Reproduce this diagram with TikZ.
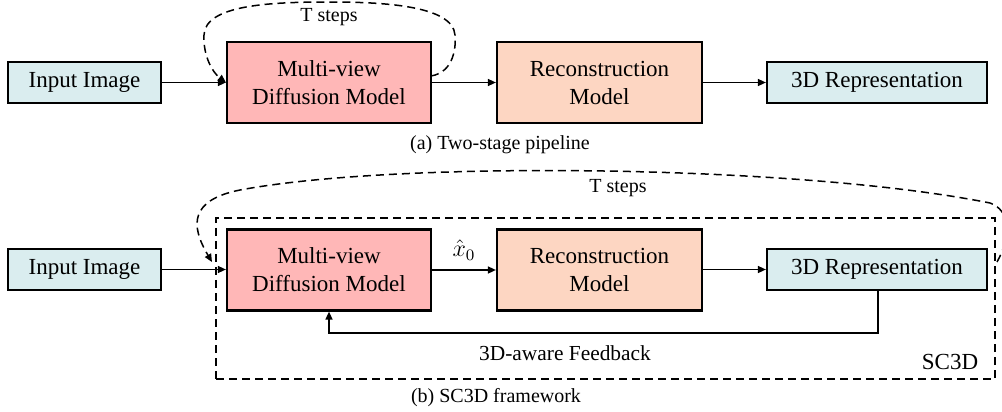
\documentclass[tikz,border=0pt]{standalone}
\usepackage{fontspec}
\setmainfont{Liberation Serif}
\usetikzlibrary{arrows.meta}
\definecolor{cyanbox}{RGB}{218,237,239}
\definecolor{pinkbox}{RGB}{255,183,183}
\definecolor{peachbox}{RGB}{253,214,194}
\tikzset{
  box/.style={draw=black, line width=1.1pt, align=center, inner sep=0pt,
    font=\fontsize{11.5}{14}\selectfont},
  smallbox/.style={box, fill=cyanbox, minimum height=20.5pt},
  bigbox/.style={box, minimum width=102pt, minimum height=40.5pt},
  conn/.style={line width=0.75pt, -{Triangle[length=4pt,width=3.5pt]}},
  loop/.style={line width=0.75pt, dash pattern=on 4pt off 2.5pt, -{Triangle[length=4pt,width=3.5pt]}},
  lbl/.style={font=\fontsize{10}{12}\selectfont, inner sep=0pt},
}
\begin{document}
\begin{tikzpicture}[x=0.5pt,y=-0.5pt]
\useasboundingbox (0,0) rectangle (1002,412);
\clip (0,0) rectangle (1002,412);
% (a)
\node[smallbox, minimum width=76.5pt] (in1) at (84.5,82.5) {Input Image};
\node[bigbox, fill=pinkbox] (mvd1) at (329,82.5) {Multi-view\\Diffusion Model};
\node[bigbox, fill=peachbox, minimum width=102.5pt] (rec1) at (599.5,82.5) {Reconstruction\\Model};
\node[smallbox, minimum width=110pt] (rep1) at (877,82.5) {3D Representation};
\draw[conn] (in1) -- (mvd1);
\draw[conn] (mvd1) -- (rec1);
\draw[conn] (rec1) -- (rep1);
\coordinate (l1s) at (431,76);
\draw[loop] (l1s) .. controls (455,72) and (456,45) .. (455,35)
  .. controls (453,5) and (380,2) .. (329,2)
  .. controls (270,2) and (205,5) .. (204,35)
  .. controls (203,55) and (212,72) .. (mvd1.west);
\node[lbl] (ts1) at (329,17) {T steps};
\node[lbl] (cap1) at (500,145) {(a) Two-stage pipeline};
% (b)
\node[draw=black, line width=0.75pt, dash pattern=on 4pt off 2.5pt, minimum width=389.5pt, minimum height=80.5pt, inner sep=0pt] (frame) at (605.5,298.5) {};
\node[smallbox, minimum width=76.5pt] (in2) at (84.5,269.5) {Input Image};
\node[bigbox, fill=pinkbox] (mvd2) at (329,270) {Multi-view\\Diffusion Model};
\node[bigbox, fill=peachbox, minimum width=102.5pt] (rec2) at (599.5,270) {Reconstruction\\Model};
\node[smallbox, minimum width=110pt] (rep2) at (877,269.5) {3D Representation};
\draw[conn] (in2) -- (mvd2.west |- in2);
\draw[conn] (mvd2.east |- rec2) -- node[above=1pt, font=\fontsize{11.5}{14}\selectfont] (xh) {$\hat{x}_0$} (rec2);
\draw[conn] (rec2.east |- rep2) -- (rep2);
\coordinate (fb) at (878,333);
\draw[conn] (rep2.south -| fb) -- (fb) -- (fb -| mvd2.south) -- (mvd2.south);
\node[font=\fontsize{10.7}{13}\selectfont, inner sep=0pt] (fbl) at (565,353) {3D-aware Feedback};
\node[font=\fontsize{11.5}{14}\selectfont, inner sep=0pt] (sc) at (950,362) {SC3D};
\coordinate (l2s) at (997,262);
\coordinate (l2e) at (212,262);
\draw[loop] (l2s) .. controls (1012,235) and (1010,210) .. (990,203)
  .. controls (800,165) and (400,160) .. (240,190)
  .. controls (190,200) and (190,225) .. (l2e);
\node[lbl] (ts2) at (618,188) {T steps};
\node[lbl] (cap2) at (496,398) {(b) SC3D framework};
\end{tikzpicture}
\end{document}
